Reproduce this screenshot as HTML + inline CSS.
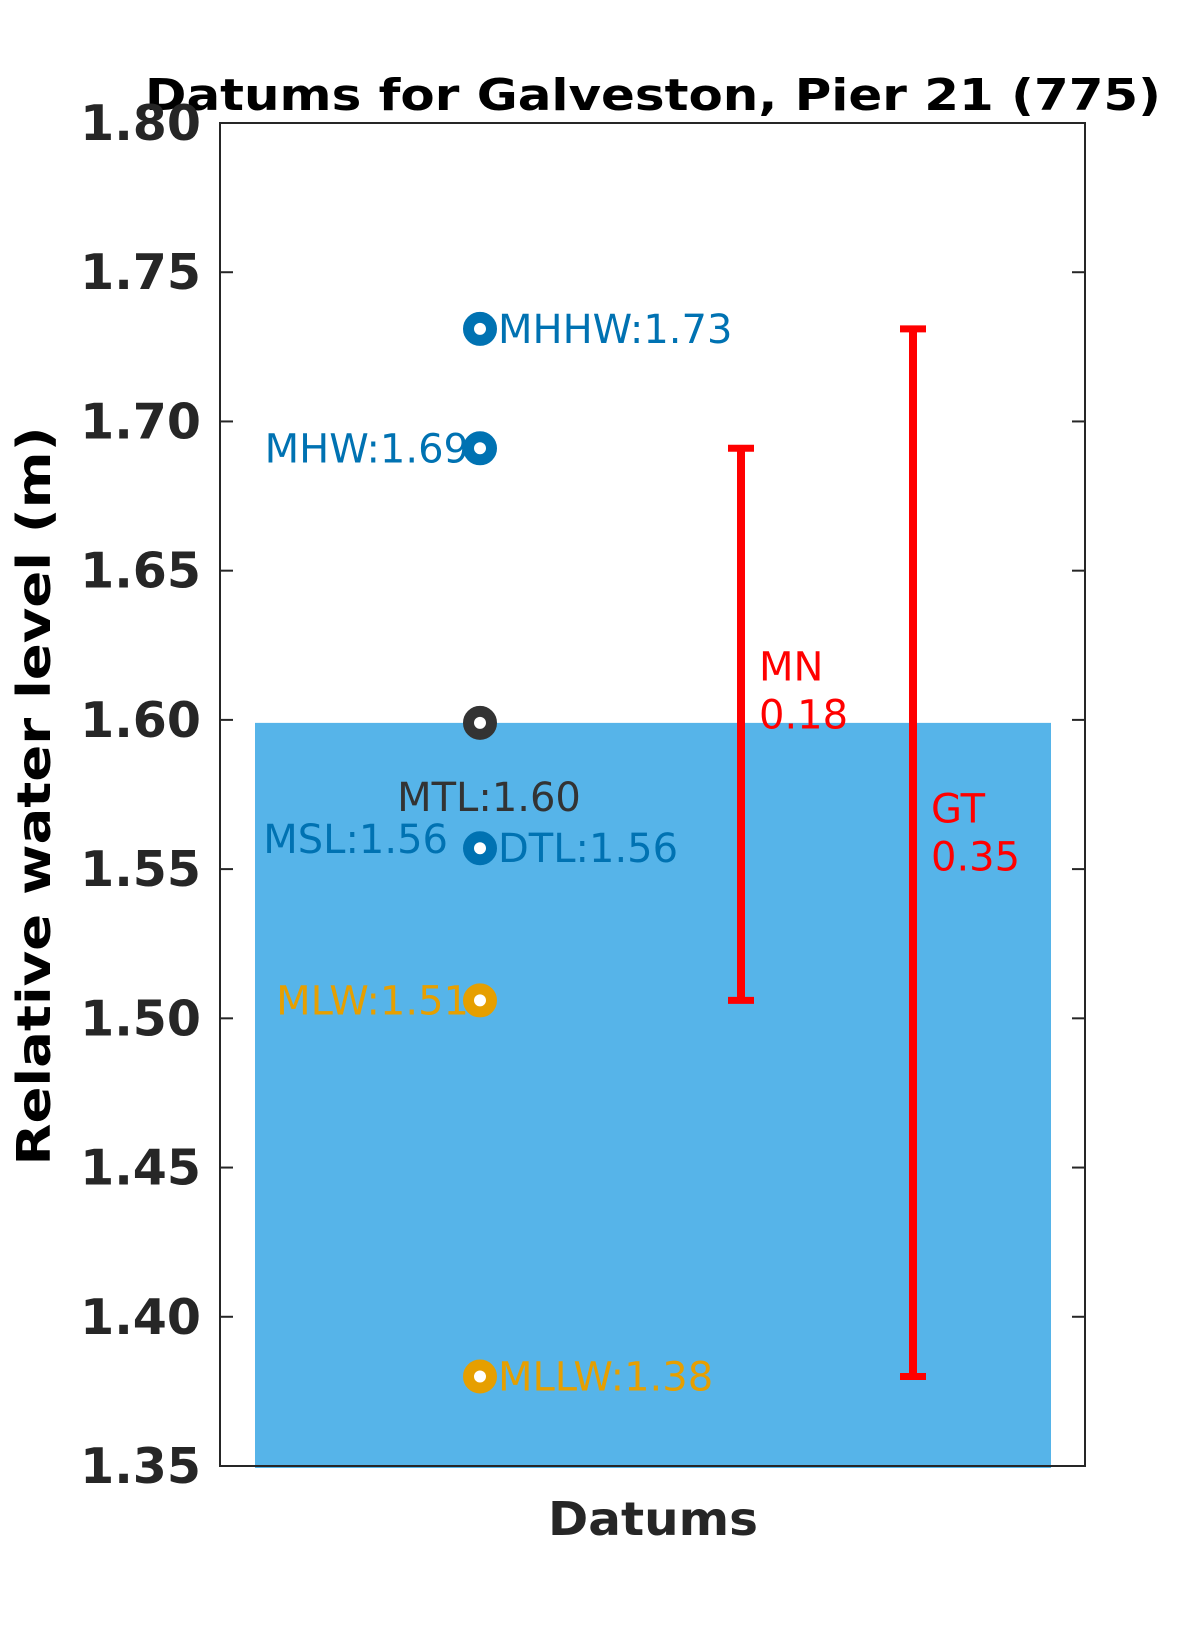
<!DOCTYPE html>
<html><head><meta charset="utf-8"><style>
html,body{margin:0;padding:0;background:#fff;}
svg{display:block;font-family:"DejaVu Sans","Liberation Sans",sans-serif;}
</style></head><body>
<svg id="chart" width="1200" height="1650" viewBox="0 0 1200 1650">
<text x="653" y="110" text-anchor="middle" font-size="44" font-weight="bold" fill="#000" textLength="1016" lengthAdjust="spacingAndGlyphs">Datums for Galveston, Pier 21 (775)</text>
<text transform="translate(50,796) rotate(-90)" text-anchor="middle" font-size="46" font-weight="bold" fill="#000" textLength="739" lengthAdjust="spacingAndGlyphs">Relative water level (m)</text>
<text x="653" y="1535" text-anchor="middle" font-size="46" font-weight="bold" fill="#262626" textLength="210" lengthAdjust="spacingAndGlyphs">Datums</text>
<g id="plot"></g>
</svg>
<script>
const yTicks=[1.35,1.40,1.45,1.50,1.55,1.60,1.65,1.70,1.75,1.80];
const barValue=1.599;
const datumNames=["MHHW","MHW","MTL","DTL","MSL","MLW","MLLW"];
const datumValues=[1.731,1.691,1.599,1.557,1.557,1.506,1.380];
const datumLabels=["1.73","1.69","1.60","1.56","1.56","1.51","1.38"];
const rangeNames=["MN","GT"];
const rangeLow=[1.506,1.380];
const rangeHigh=[1.691,1.731];
const rangeLabels=["0.18","0.35"];

const NS="http://www.w3.org/2000/svg";
const X0=220,X1=1085,Y0=123,Y1=1466,YMIN=1.35,YMAX=1.80;
function y(v){return Y1-(v-YMIN)/(YMAX-YMIN)*(Y1-Y0);}
const g=document.getElementById('plot');
function mk(tag,attrs,parent){const e=document.createElementNS(NS,tag);for(const k in attrs)e.setAttribute(k,attrs[k]);(parent||g).appendChild(e);return e;}

// bar
const bar=mk('rect',{x:255,y:y(barValue),width:1051-255,height:y(YMIN)-y(barValue)+2,fill:'#56b4e9'});



// axes box
const box=mk('rect',{x:X0,y:Y0,width:X1-X0,height:Y1-Y0,fill:'none',stroke:'#262626','stroke-width':2});



yTicks.forEach(v=>{
  const yy=y(v);
  const t1=mk('line',{x1:X0,x2:X0+13,y1:yy,y2:yy,stroke:'#262626','stroke-width':2});
  
  
  const t2=mk('line',{x1:X1-13,x2:X1,y1:yy,y2:yy,stroke:'#262626','stroke-width':2});
  
  
  const tl=mk('text',{x:201,y:yy+17,'text-anchor':'end','font-size':49,'font-weight':'bold',fill:'#262626'});
  tl.textContent=v.toFixed(2);
  
  
});

const MX=480;
const colors={MHHW:'#0072b2',MHW:'#0072b2',MTL:'#333333',DTL:'#0072b2',MSL:'#0072b2',MLW:'#e69f00',MLLW:'#e69f00'};
// label placement: side (right/left/below)
const place={MHHW:'r',MHW:'l',MTL:'b',DTL:'r',MSL:'l',MLW:'l',MLLW:'r'};
datumNames.forEach((n,i)=>{
  const yy=y(datumValues[i]);const c=colors[n];
  if(n!=='MSL'){
    const m=mk('circle',{cx:MX,cy:yy,r:11.5,fill:'#fff',stroke:c,'stroke-width':11});
    
    
  }
  let attrs={'font-size':40,fill:c};
  if(place[n]==='r'){attrs.x=498;attrs.y=yy+14;attrs['text-anchor']='start';}
  else if(place[n]==='l'){attrs.x=(n==='MSL')?448:469;attrs.y=yy+14-(n==='MSL'?9:0);attrs['text-anchor']='end';}
  else {attrs.x=489;attrs.y=yy+88;attrs['text-anchor']='middle';}
  const t=mk('text',attrs);
  t.textContent=n+':'+datumLabels[i];
  
  
});

const RX=[741,913];
rangeNames.forEach((n,i)=>{
  const x=RX[i],a=y(rangeHigh[i]),b=y(rangeLow[i]);
  const grp=mk('g',{});
  
  
  mk('line',{x1:x,x2:x,y1:a,y2:b,stroke:'#ff0000','stroke-width':8},grp);
  mk('line',{x1:x-13,x2:x+13,y1:a,y2:a,stroke:'#ff0000','stroke-width':7},grp);
  mk('line',{x1:x-13,x2:x+13,y1:b,y2:b,stroke:'#ff0000','stroke-width':7},grp);
  const mid=(a+b)/2;
  const t1=mk('text',{x:x+18,y:mid-44+(i?14:0),'font-size':40,fill:'#ff0000'});
  t1.textContent=n;
  
  
  const t2=mk('text',{x:x+18,y:mid+4+(i?14:0),'font-size':40,fill:'#ff0000'});
  t2.textContent=rangeLabels[i];
  
  
});
</script>
</body></html>
